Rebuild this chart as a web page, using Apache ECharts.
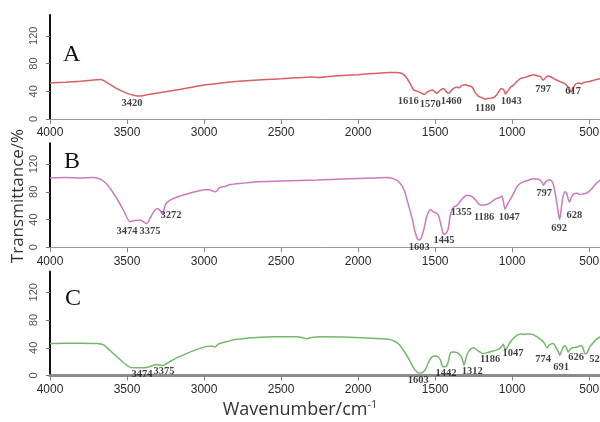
<!DOCTYPE html>
<html>
<head>
<meta charset="utf-8">
<script src="https://cdn.jsdelivr.net/npm/echarts@6/dist/echarts.min.js"></script>
<style>
  html, body { margin: 0; padding: 0; background: #fff; }
  #chart { width: 600px; height: 422px; }
</style>
</head>
<body>
<div id="chart"></div>
<script>
// FTIR spectra of three samples (A, B, C): wavenumber (cm^-1) vs transmittance (%)
const waveA = [4000,3900,3800,3700,3670,3620,3560,3500,3450,3420,3380,3300,3200,3100,3000,2900,2800,2700,2600,2500,2400,2300,2250,2150,2000,1900,1800,1750,1720,1690,1660,1640,1616,1595,1571,1550,1522,1505,1489,1470,1446,1430,1413,1395,1381,1360,1345,1330,1316,1300,1285,1260,1240,1220,1200,1180,1160,1140,1120,1100,1085,1070,1055,1043,1030,1010,990,970,950,920,890,860,840,815,800,790,770,750,720,690,660,640,625,617,605,590,570,550,530,500,470,430];
const transA = [52,53,54.5,56.5,57,51,43,37,34,33,34.5,37.5,41,45,49,51.5,54,55.5,57,58,59.5,60.5,60,62,64,65.5,67,67,66,61,50,42,40,38,35.5,39,42,40,37,41,44,40,37,41,44,46,45,48,49,49.5,48,46,38,33,31,29,29.5,30,31,35,40,44,42,36,40,46,49,54,58,60,62,64,62.5,61,56,58,62,61,57,54,51,47,42,39,44,50,52,51,53,54,56,58];

const waveB = [4000,3900,3800,3720,3690,3656,3620,3565,3520,3481,3450,3416,3395,3373,3350,3325,3302,3285,3270,3250,3221,3170,3111,3050,2994,2963,2945,2924,2905,2885,2860,2831,2750,2657,2500,2266,2100,1900,1812,1760,1730,1700,1682,1650,1630,1617,1602,1590,1573,1555,1530,1510,1490,1478,1465,1450,1442,1430,1416,1400,1381,1360,1338,1315,1294,1270,1253,1230,1208,1180,1160,1143,1120,1100,1080,1068,1057,1047,1035,1013,990,970,948,920,890,864,840,818,805,797,785,765,753,735,721,705,692,682,670,656,645,637,628,615,600,580,560,540,520,494,470,450,429];
const transB = [100,100.5,100,100.5,99.5,96,88,70,52,37,38.5,39.5,37,34,42,52,56,53,48,62,68,73,77,80.5,83,83,81,80,85,87,88,90.5,92.5,94.5,95.5,97,98.5,100,100.5,98,93,82,68,42,22,13,10.5,14,26,44,54,51,49,46,35,21,19,20,26,48,58,60,66,72,75,74,72,66,61,61,62,64,68,70.5,72,74,66,55,60,69,78,87,92,95,97,99,98.5,97,93,89.5,94,97,97,92,78,56,40,55,73,80,77,70,65,72,77,78,76,77,78,82,88,93,97];

const waveC = [4000,3900,3800,3700,3656,3610,3565,3520,3470,3420,3373,3340,3308,3290,3270,3230,3190,3156,3100,3040,2983,2950,2929,2910,2885,2850,2800,2766,2700,2600,2552,2450,2396,2360,2331,2300,2247,2100,1950,1812,1760,1727,1690,1662,1640,1617,1597,1580,1565,1545,1522,1500,1481,1465,1450,1430,1420,1400,1381,1357,1340,1327,1312,1300,1286,1270,1253,1230,1210,1188,1160,1130,1098,1075,1058,1045,1030,1013,990,970,948,920,890,864,840,818,795,774,760,734,715,700,691,680,665,656,645,637,625,610,578,560,545,525,513,495,481,460,429];
const transC = [46,46.5,46.5,46,44.5,36,27,18,11,11,11.5,14,16,15,14.5,19,24,27.5,33,38,42,42.5,41,45,47,49,52,52.5,54.5,55.5,56,56,56,54.5,53,55,56,55.5,54,52.5,49,43,31,20,11,5,3.5,5,8,18,26.5,28,27,22,12.5,13,16,33,34,33,30,26,15,25,33.5,38,40,37,34,31.5,33,35,37,40,45,37,41,48,54,58,60,59.5,60,59,56,52.5,48,40,44,46,40,34,29,35,42,43,38,33.5,38,40,41,43,42,31,33,42,45.5,51,56];

// Assigned band positions (cm^-1) for each spectrum
const peaksA = [3420, 1616, 1570, 1460, 1180, 1043, 797, 617];
const peaksB = [3474, 3375, 3272, 1603, 1445, 1355, 1186, 1047, 797, 692, 628];
const peaksC = [3474, 3375, 1603, 1442, 1312, 1186, 1047, 774, 691, 626, 525];

const xTicks = [4000, 3500, 3000, 2500, 2000, 1500, 1000, 500];
const yTicks = [0, 40, 80, 120];

// Where each band label sits, in axis units [wavenumber, transmittance]
const labelSpotA = [[3468,23],[1675,25],[1532,21],[1396,25],[1175,15.5],[1006,25],[799,43],[604,40]];
const labelSpotB = [[3500,22.4],[3351,22.4],[3214,46.5],[1604,0],[1442,9.5],[1331,50],[1182,43],[1019,43],[792,78.5],[695,27],[597,45.5]];
const labelSpotC = [[3403,2],[3260,5.4],[1610,-7],[1429,3],[1260,5.4],[1143,23],[994,32],[799,23],[682,12.5],[585,26.6],[448,23]];

const colors = ['#d95f68', '#c97bbd', '#74b86b'];
const panelNames = ['A', 'B', 'C'];

const zip = (xs, ys) => xs.map((x, i) => [x, ys[i]]);
const spectra = [zip(waveA, transA), zip(waveB, transB), zip(waveC, transC)];
const peaks = [peaksA, peaksB, peaksC];
const spots = [labelSpotA, labelSpotB, labelSpotC];

const tops = [15, 143.3, 271.5];
const grids = tops.map(t => ({
  left: 50, width: 550, top: t, height: 104,
  containLabel: false,
  outerBoundsMode: 'none'
}));

const xAxes = [0, 1, 2].map(i => ({
  gridIndex: i,
  type: 'value',
  inverse: true,
  min: 430,
  max: 4000,
  splitLine: { show: false },
  axisLine: {
    onZero: false,
    lineStyle: i === 2 ? { color: '#8c8c8c', width: 3 } : { color: '#9a9a9a', width: 1 }
  },
  axisTick: {
    customValues: xTicks,
    length: 5,
    inside: false,
    lineStyle: { color: '#888', width: 1 }
  },
  axisLabel: {
    customValues: xTicks,
    formatter: v => String(v),
    color: '#2a2a2a',
    fontSize: 12,
    fontFamily: 'Liberation Sans',
    margin: 8
  }
}));

const yAxes = [0, 1, 2].map(i => ({
  gridIndex: i,
  type: 'value',
  min: 0,
  max: 150,
  splitLine: { show: false },
  axisLine: { show: true, onZero: false, lineStyle: { color: '#111', width: 2 } },
  axisTick: { show: true, customValues: yTicks, length: 4, lineStyle: { color: '#777' } },
  axisLabel: {
    customValues: yTicks,
    formatter: v => String(v),
    rotate: 90,
    color: '#555',
    fontSize: 11,
    fontFamily: 'Liberation Sans',
    margin: 11
  }
}));

const series = [];
spectra.forEach((data, i) => {
  series.push({
    type: 'line',
    xAxisIndex: i,
    yAxisIndex: i,
    data: data,
    showSymbol: false,
    smooth: 0.25,
    lineStyle: { color: colors[i], width: 1.5 },
    silent: true,
    z: 3
  });
  series.push({
    type: 'scatter',
    xAxisIndex: i,
    yAxisIndex: i,
    clip: false,
    symbolSize: 0,
    silent: true,
    z: 10,
    data: peaks[i].map((p, k) => ({ value: spots[i][k], name: String(p) })),
    label: {
      show: true,
      position: 'inside',
      formatter: p => p.name,
      color: '#111',
      fontFamily: 'Liberation Serif',
      fontWeight: 'bold',
      fontSize: 10.5
    }
  });
});

const chart = echarts.init(document.getElementById('chart'), null, { renderer: 'canvas' });
chart.setOption({
  animation: false,
  backgroundColor: '#fff',
  grid: grids,
  xAxis: xAxes,
  yAxis: yAxes,
  series: series,
  graphic: [
    { type: 'text', left: 63, top: 43, style: { text: panelNames[0], font: '24px "Liberation Serif"', fill: '#111' } },
    { type: 'text', left: 64, top: 150, style: { text: panelNames[1], font: '24px "Liberation Serif"', fill: '#111' } },
    { type: 'text', left: 65, top: 287, style: { text: panelNames[2], font: '24px "Liberation Serif"', fill: '#111' } },
    {
      type: 'text', x: 18, y: 196, rotation: Math.PI / 2,
      style: { text: 'Transmittance/%', font: '17px "Open Sans"', fill: '#333', align: 'center', verticalAlign: 'middle' }
    },
    {
      type: 'text', x: 300, y: 410,
      style: {
        text: 'Wavenumber/cm{sup|-1}',
        font: '18px "Open Sans"', fill: '#333', align: 'center', verticalAlign: 'middle',
        rich: { sup: { fontSize: 11, fontFamily: 'Open Sans', fill: '#333', verticalAlign: 'top', padding: [0, 0, 10, 0] } }
      }
    }
  ]
});
</script>
</body>
</html>
